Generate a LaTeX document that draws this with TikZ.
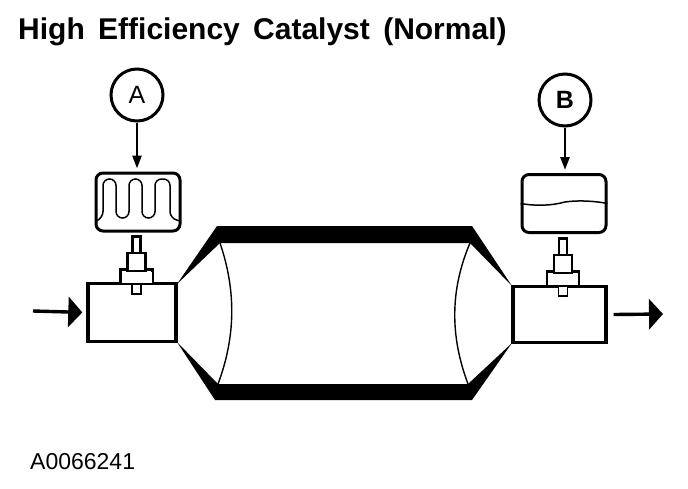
\documentclass[tikz,border=0pt]{standalone}
\usepackage{fontspec}
\setmainfont{Liberation Sans}
\usepackage{tikz}
\usetikzlibrary{positioning,arrows.meta,calc}
\begin{document}
\begin{tikzpicture}[
  x=1pt, y=-1pt,
  circulo/.style={draw, circle, line width=3pt, minimum size=52pt, inner sep=0pt,
                  font=\fontsize{25}{25}\selectfont},
  pantalla/.style={draw, rounded corners=7pt, line width=3pt, minimum width=84pt,
                   minimum height=58pt, inner sep=0pt},
  tubo/.style={draw, line width=3.4pt, inner sep=0pt, fill=white},
  pieza/.style={draw, line width=2.6pt, inner sep=0pt, fill=white},
  titulo/.style={anchor=base west, inner sep=0pt, font=\fontsize{30}{30}\selectfont\bfseries},
  codigo/.style={anchor=base west, inner sep=0pt, font=\fontsize{23}{24}\selectfont},
  flecha/.style={line width=2.6pt, -{Triangle[length=13pt,width=9pt]}, shorten >=3pt},
  flujo/.style={line width=3.4pt, -{Triangle[length=14pt,width=30pt]}},
  traza/.style={line width=1.5pt},
]
\useasboundingbox (0,0) rectangle (688,488);
% ---- Textos ---------------------------------------------------------------
\node[titulo] (tituloCat) at (18,39) {High\hspace{5pt} Efficiency\hspace{5pt} Catalyst\hspace{5pt} (Normal)};
\node[codigo] (codigoFig) at (30,469) {A0066241};
% ---- Catalizador ----------------------------------------------------------
\fill (177,284) -- (217,226) -- (472,226) -- (512,286) -- (470,243) -- (220,243) -- cycle;
\fill (177,342) -- (215,400) -- (472,400) -- (512,343) -- (468,384) -- (218,384) -- cycle;
\draw[line width=1.4pt] (220,243) .. controls (236,290) and (236,336) .. (218,384);
\draw[line width=1.4pt] (470,243) .. controls (450,290) and (450,336) .. (468,384);
% ---- Tubos ----------------------------------------------------------------
\node[pieza, minimum width=32pt, minimum height=15pt] (collarA) at (136.5,277) {};
\node[pieza, minimum width=32pt, minimum height=15pt] (collarB) at (563,279) {};
\node[tubo, minimum width=88pt, minimum height=58pt] (tuboA) at (132,312.5) {};
\node[tubo, minimum width=93pt, minimum height=56pt] (tuboB) at (559.5,314.5) {};
\draw[line width=1.4pt] (tuboA.north east) -- (tuboA.south east);
\draw[line width=1.4pt] (tuboB.north west) -- (tuboB.south west);
% ---- Sensores -------------------------------------------------------------
\foreach \s/\px/\py in {A/136.5/0, B/563/2} {
  \node[pieza, minimum width=8pt, minimum height=17pt] (vastago\s) at (\px,245+\py) {};
  \node[pieza, minimum width=18pt, minimum height=18pt] (cuerpo\s) at (\px,262+\py) {};
  \node[pieza, minimum width=9pt, minimum height=10pt, line width=1.6pt] (punta\s) at (\px,289+\py) {};
  \node[pieza, minimum width=29pt, minimum height=10pt, draw=white, line width=0pt] (tapa\s) at (\px,277+\py) {};
}
% ---- Pantallas y circulos -------------------------------------------------
\node[circulo] (circA) at (137,95) {A};
\node[circulo] (circB) at (565,100) {\bfseries B};
\node[pantalla] (pantA) at (138,202) {};
\node[pantalla] (pantB) at (564,203.5) {};
\draw[flecha] (circA.south) -- (circA.south |- pantA.north);
\draw[flecha] (circB.south) -- (circB.south |- pantB.north);
\draw[traza, rounded corners=6.5pt] (96,221) -- (103,218) -- (103,179) -- (116,179)
  -- (116,218) -- (129,218) -- (129,179) -- (142,179) -- (142,218) -- (155,218)
  -- (155,179) -- (170,179) -- (170,218) -- (180,221);
\draw[traza] (pantB.west) .. controls (535,206) and (550,206) .. (565,202)
  .. controls (578,200) and (595,201) .. (pantB.east);
% ---- Flujo ----------------------------------------------------------------
\coordinate (entIni) at (33,311);
\coordinate (salFin) at (663,314);
\draw[flujo, shorten >=4pt] (entIni) -- (tuboA.west);
\draw[flujo] (tuboB.east) ++(6,0) coordinate (salIni) (salIni) -- (salFin);
\end{tikzpicture}
\end{document}
